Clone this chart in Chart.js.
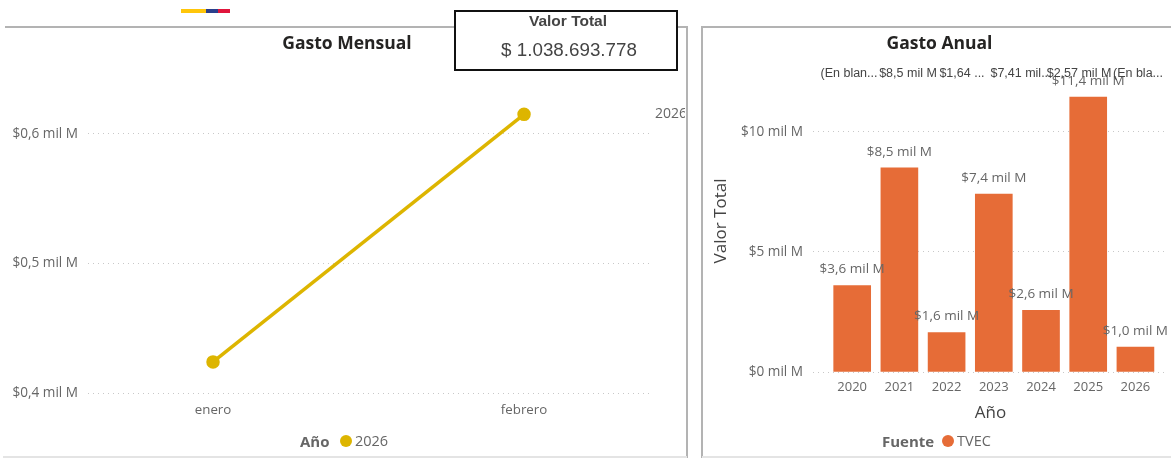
<!DOCTYPE html>
<html><head><meta charset="utf-8">
<script src="https://cdn.jsdelivr.net/npm/chart.js@4"></script>
<style>
html,body{margin:0;padding:0;background:#fff;overflow:hidden}
#page{position:relative;width:1171px;height:458px;overflow:hidden;font-family:"Open Sans",sans-serif}
#page div,#page span{position:absolute;white-space:nowrap}
canvas{position:absolute}
.line{background:#b3b3b3}
.soft{background:#e4e4e4}
.legT{font-weight:700;color:#666;font-size:15px;line-height:20px}
.legV{color:#666;font-size:14.5px;line-height:20px}
.dot{width:12px;height:12px;border-radius:50%}
.top{font:12.5px "Liberation Sans",sans-serif;color:#444;transform:translateX(-50%)}
</style></head><body>
<div id="page">
<div style="left:181px;top:9px;width:25px;height:4px;background:#FFC60A"></div>
<div style="left:206px;top:9px;width:12px;height:4px;background:#2B3F8C"></div>
<div style="left:218px;top:9px;width:12px;height:4px;background:#E0163C"></div>
<div class="line" style="left:5px;top:26px;width:682px;height:2px"></div>
<div class="line" style="left:686px;top:26px;width:2px;height:432px"></div>
<div class="line" style="left:701px;top:26px;width:470px;height:2px"></div>
<div class="line" style="left:701px;top:26px;width:2px;height:432px"></div>
<div class="soft" style="left:3px;top:456px;width:684px;height:2px"></div>
<div class="soft" style="left:702px;top:456px;width:469px;height:2px"></div>
<canvas id="monthly" style="left:9px;top:28px"></canvas>
<canvas id="annual" style="left:709px;top:28px"></canvas>
<div id="topRow"></div>
<div style="left:454px;top:10px;width:220px;height:57px;border:2px solid #111;background:#fff"></div>
<div style="left:454px;top:12px;width:228px;text-align:center;font:bold 15.5px 'Liberation Sans',sans-serif;color:#444;line-height:18px">Valor Total</div>
<div style="left:454px;top:39px;width:230px;text-align:center;font:18.8px 'Liberation Sans',sans-serif;color:#444;line-height:22px">$ 1.038.693.778</div>
<div class="legT" style="left:300px;top:431px">Año</div>
<div class="dot" style="left:340px;top:435px;background:#DDB500"></div>
<div class="legV" style="left:355px;top:431px">2026</div>
<div class="legT" style="left:882px;top:431px">Fuente</div>
<div class="dot" style="left:942px;top:435px;background:#E66C37"></div>
<div class="legV" style="left:957px;top:431px">TVEC</div>
</div>
<script>
const months = ['enero', 'febrero'];
const monthlyValues = [0.424, 0.615];
const monthlyTicks = [0.4, 0.5, 0.6];
const seriesYear = '2026';
const years = [2020, 2021, 2022, 2023, 2024, 2025, 2026];
const annualValues = [3.6, 8.5, 1.64, 7.41, 2.57, 11.45, 1.04];
const annualLabels = ['$3,6 mil M', '$8,5 mil M', '$1,6 mil M', '$7,4 mil M', '$2,6 mil M', '$11,4 mil M', '$1,0 mil M'];
const annualTicks = [0, 5, 10];
const topRowLabels = ['(En blan...', '$8,5 mil M', '$1,64 ...', '$7,41 mil...', '$2,57 mil M', '(En bla...'];
const topRowCenters = [849, 908, 962, 1021, 1079, 1138];

const FONT = '"Open Sans", sans-serif';
const GREY = '#666666';
Chart.defaults.font.family = FONT;
Chart.defaults.animation = false;
Chart.defaults.responsive = false;

const rowHost = document.getElementById('topRow');
topRowLabels.forEach((t, i) => {
  const s = document.createElement('span');
  s.className = 'top'; s.textContent = t;
  s.style.left = topRowCenters[i] + 'px'; s.style.top = '66px';
  rowHost.appendChild(s);
});

function size(id, w, h) { const c = document.getElementById(id); c.width = w; c.height = h; return c; }
const dotted = { color: '#c8c8c8', lineWidth: 1, drawTicks: false };
const noBorderDotted = { display: false, dash: [1, 4] };

const endLabel = {
  id: 'endLabel',
  afterLayout(chart) { chart.titleBlock.right += 35; },
  afterDatasetsDraw(chart) {
    const p = chart.getDatasetMeta(0).data[1];
    const c = chart.ctx; c.save();
    c.font = '14px ' + FONT; c.fillStyle = GREY; c.textBaseline = 'middle';
    c.fillText(seriesYear, 646, p.y);
    c.restore();
  }
};

new Chart(size('monthly', 676, 430), {
  type: 'line',
  data: { datasets: [{
    label: seriesYear,
    data: months.map((m, i) => ({ x: i, y: monthlyValues[i] })),
    borderColor: '#DDB500', backgroundColor: '#DDB500',
    borderWidth: 3.5, pointRadius: 5, pointHoverRadius: 5, tension: 0
  }] },
  plugins: [endLabel],
  options: {
    layout: { padding: { left: 0, right: 35, top: 0, bottom: 0 } },
    plugins: {
      legend: { display: false }, tooltip: { enabled: false },
      title: { display: true, text: 'Gasto Mensual', color: '#252423',
        font: { size: 17.5, weight: 'bold', family: FONT, lineHeight: 1.2 },
        padding: { top: 5.5, bottom: 14.5 } }
    },
    scales: {
      x: { type: 'linear', min: -0.402, max: 1.405, offset: false,
        grid: { display: false }, border: { display: false },
        afterBuildTicks: s => { s.ticks = months.map((m, i) => ({ value: i })); },
        afterFit: s => { s.height = 65; },
        ticks: { color: GREY, padding: 1, font: { size: 13.3 }, maxRotation: 0, callback: v => months[v] } },
      y: { type: 'linear', min: 0.4, max: 0.65,
        grid: dotted, border: noBorderDotted,
        afterBuildTicks: s => { s.ticks = monthlyTicks.map(v => ({ value: v })); },
        afterFit: s => { s.width = 79; },
        ticks: { color: GREY, padding: 10, font: { size: 13.6 },
          callback: v => '$' + v.toFixed(1).replace('.', ',') + ' mil M' } }
    }
  }
});

const barLabels = {
  id: 'barLabels',
  afterDatasetsDraw(chart) {
    const c = chart.ctx; c.save();
    c.font = '13.5px ' + FONT; c.fillStyle = GREY; c.textAlign = 'center'; c.textBaseline = 'middle';
    chart.getDatasetMeta(0).data.forEach((b, i) => c.fillText(annualLabels[i], b.x, b.y - 16));
    c.restore();
  }
};

new Chart(size('annual', 462, 430), {
  type: 'bar',
  data: { datasets: [{
    label: 'TVEC',
    data: years.map((y, i) => ({ x: y, y: annualValues[i] })),
    backgroundColor: '#E66C37', barThickness: 37
  }] },
  plugins: [barLabels],
  options: {
    layout: { padding: { left: 2, right: 3, top: 0, bottom: 35 } },
    plugins: {
      legend: { display: false }, tooltip: { enabled: false },
      title: { display: true, text: 'Gasto Anual', color: '#252423',
        font: { size: 17.5, weight: 'bold', family: FONT, lineHeight: 1.2 },
        padding: { top: 5.5, bottom: 15.5 } }
    },
    scales: {
      x: { type: 'linear', min: 2019.17, max: 2026.69, offset: false,
        grid: { display: false }, border: { display: false },
        afterBuildTicks: s => { s.ticks = years.map(v => ({ value: v })); },
        afterFit: s => { s.height = 51; },
        title: { display: true, text: 'Año', color: '#444', font: { size: 17 }, padding: { top: 2, bottom: 0 } },
        ticks: { color: GREY, padding: -1, font: { size: 13 }, maxRotation: 0, autoSkip: false, callback: v => String(v) } },
      y: { type: 'linear', min: 0, max: 12.58,
        grid: dotted, border: noBorderDotted,
        afterBuildTicks: s => { s.ticks = annualTicks.map(v => ({ value: v })); },
        afterFit: s => { s.width = 102; },
        title: { display: true, text: 'Valor Total', color: '#444', font: { size: 17 }, padding: { top: 0, bottom: 0 } },
        ticks: { color: GREY, padding: 10, font: { size: 13.6 }, callback: v => '$' + v + ' mil M' } }
    }
  }
});
</script>
</body></html>
